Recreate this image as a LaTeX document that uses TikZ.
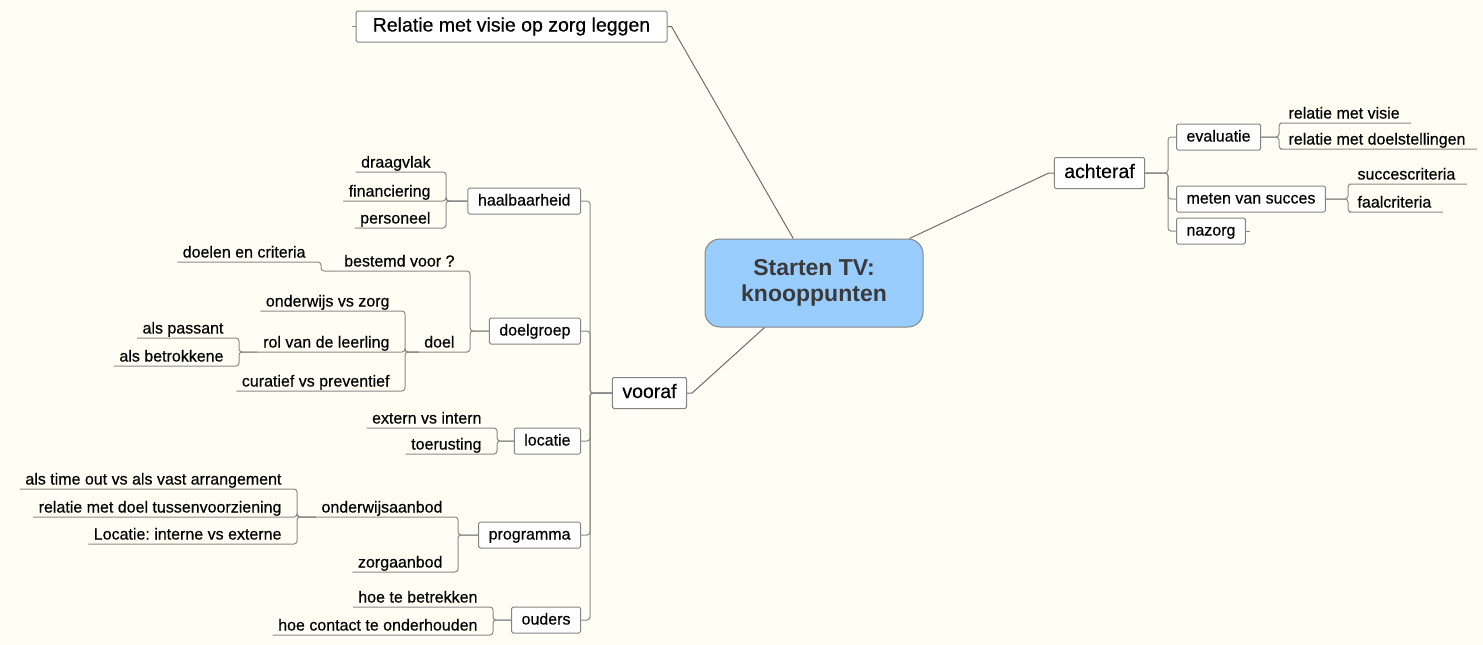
\documentclass[tikz,border=0pt]{standalone}
\usepackage{fontspec}
\setmainfont{Liberation Sans}
\newfontfamily\mapfont{Liberation Sans}[FakeBold=0.4]
\frenchspacing

\begin{document}
\begin{tikzpicture}[x=1pt, y=-1pt, line width=1pt,
  box/.style={draw=Edge, fill=white, rounded corners=1.5pt, inner xsep=10pt, inner ysep=0pt, minimum height=26pt, text height=12pt, text depth=3pt, font=\mapfont\fontsize{16}{18}\selectfont},
  main/.style={box, minimum height=31pt, text height=14pt, text depth=4pt, font=\mapfont\fontsize{19.5}{22}\selectfont},
  leaf/.style={inner xsep=5pt, inner ysep=0pt, text height=12pt, text depth=4pt, font=\mapfont\fontsize{16}{18}\selectfont},
  lleaf/.style={leaf, anchor=south east}, rleaf/.style={leaf, anchor=south west},
  wire/.style={draw=Wire, rounded corners=3pt}, spoke/.style={draw=Spoke}]
\definecolor{Paper}{HTML}{FEFEF4}\definecolor{Edge}{HTML}{858585}\definecolor{Wire}{HTML}{8A8A8A}\definecolor{Spoke}{HTML}{6E6E6E}\definecolor{Sky}{HTML}{99CCFF}\definecolor{Ink}{HTML}{3A3A3A}
\fill[Paper] (0,0) rectangle (1483,645); \useasboundingbox (0,0) rectangle (1483,645);
% centre and first level
\node[draw=Edge, fill=Sky, rounded corners=15pt, minimum width=218pt, minimum height=88pt, align=center, text=Ink, font=\bfseries\fontsize{23}{26}\selectfont] (ctr) at (814,283) {Starten TV:\\knooppunten};
\node[main, minimum width=311pt] (rel) at (511.5,26.5) {Relatie met visie op zorg leggen};
\node[main] (voor) at (649.5,393) {vooraf}; \node[main] (ach) at (1099.5,173) {achteraf};
\draw[spoke] (rel.east) -- ++(4,0) -- (ctr.115); \draw[wire] (rel.west) -- ++(-4,0);
\draw[spoke] (voor.east) -- ++(5,0) -- (ctr.222); \draw[spoke] (ach.west) -- ++(-5,0) -- (ctr.25);
% vooraf
\node[box, anchor=east] (hb) at (581,201) {haalbaarheid}; \node[box, anchor=east] (dg) at (581,331) {doelgroep};
\node[box, anchor=east] (loc) at (581,441) {locatie}; \node[box, anchor=east] (prog) at (581,535) {programma};
\node[box, anchor=east] (oud) at (581,620) {ouders};
\draw[wire] (hb.east) -- ++(9,0) |- (voor.west); \draw[wire] (dg.east) -- ++(9,0) |- (voor.west); \draw[wire] (loc.east) -- ++(9,0) |- (voor.west);
\draw[wire] (prog.east) -- ++(9,0) |- (voor.west); \draw[wire] (oud.east) -- ++(9,0) |- (voor.west);
\node[lleaf] (drv) at (436,172) {draagvlak}; \node[lleaf] (fin) at (436,201) {financiering}; \node[lleaf] (pers) at (436,228) {personeel};
\draw[wire] (drv.south west) -- (drv.south east) -- ++(10,0) |- (hb.west); \draw[wire] (fin.south west) -- (fin.south east) -- ++(10,0) |- (hb.west);
\draw[wire] (pers.south west) -- (pers.south east) -- ++(10,0) |- (hb.west);
\node[lleaf] (best) at (460,271) {bestemd voor ?}; \node[lleaf] (doel) at (460,352) {doel}; \node[lleaf] (dec) at (311,262) {doelen en criteria};
\draw[wire] (best.south west) -- (best.south east) -- ++(10,0) |- (dg.west); \draw[wire] (doel.south west) -- (doel.south east) -- ++(10,0) |- (dg.west);
\draw[wire] (dec.south west) -- (dec.south east) -- ++(10,0) |- (best.south west);
\node[lleaf] (ovz) at (395,311) {onderwijs vs zorg}; \node[lleaf] (rol) at (395,352) {rol van de leerling}; \node[lleaf] (cvp) at (395,391) {curatief vs preventief};
\draw[wire] (ovz.south west) -- (ovz.south east) -- ++(10,0) |- (doel.south west); \draw[wire] (rol.south west) -- (rol.south east) -- ++(10,0) |- (doel.south west);
\draw[wire] (cvp.south west) -- (cvp.south east) -- ++(10,0) |- (doel.south west);
\node[lleaf] (pas) at (229,338) {als passant}; \node[lleaf] (betr) at (229,366) {als betrokkene};
\draw[wire] (pas.south west) -- (pas.south east) -- ++(10,0) |- (rol.south west); \draw[wire] (betr.south west) -- (betr.south east) -- ++(10,0) |- (rol.south west);
\node[lleaf] (evi) at (487,428) {extern vs intern}; \node[lleaf] (toe) at (487,454) {toerusting};
\draw[wire] (evi.south west) -- (evi.south east) -- ++(10,0) |- (loc.west); \draw[wire] (toe.south west) -- (toe.south east) -- ++(10,0) |- (loc.west);
\node[lleaf] (oa) at (448,517) {onderwijsaanbod}; \node[lleaf] (za) at (448,572) {zorgaanbod};
\draw[wire] (oa.south west) -- (oa.south east) -- ++(10,0) |- (prog.west); \draw[wire] (za.south west) -- (za.south east) -- ++(10,0) |- (prog.west);
\node[lleaf] (tout) at (287,489) {als time out vs als vast arrangement}; \node[lleaf] (rdt) at (287,517) {relatie met doel tussenvoorziening};
\node[lleaf] (lie) at (287,544) {Locatie: interne vs externe};
\draw[wire] (tout.south west) -- (tout.south east) -- ++(10,0) |- (oa.south west); \draw[wire] (rdt.south west) -- (rdt.south east) -- ++(10,0) |- (oa.south west);
\draw[wire] (lie.south west) -- (lie.south east) -- ++(10,0) |- (oa.south west);
\node[lleaf] (htb) at (483,607) {hoe te betrekken}; \node[lleaf] (hco) at (483,635) {hoe contact te onderhouden};
\draw[wire] (htb.south west) -- (htb.south east) -- ++(10,0) |- (oud.west); \draw[wire] (hco.south west) -- (hco.south east) -- ++(10,0) |- (oud.west);
% achteraf
\node[box, anchor=west] (eval) at (1176,137) {evaluatie}; \node[box, anchor=west] (meet) at (1176,199) {meten van succes};
\node[box, anchor=west] (naz) at (1176,231) {nazorg};
\draw[wire] (eval.west) -- ++(-8,0) |- (ach.east); \draw[wire] (meet.west) -- ++(-8,0) |- (ach.east); \draw[wire] (naz.west) -- ++(-8,0) |- (ach.east);
\draw[wire] (naz.east) -- ++(4,0);
\node[rleaf] (rmv) at (1283,123) {relatie met visie}; \node[rleaf] (rmd) at (1283,149) {relatie met doelstellingen};
\draw[wire] ([xshift=6pt]rmv.south east) -- (rmv.south west) -- ++(-4,0) |- (eval.east); \draw[wire] ([xshift=6pt]rmd.south east) -- (rmd.south west) -- ++(-4,0) |- (eval.east);
\node[rleaf] (scr) at (1352,184) {succescriteria}; \node[rleaf] (fcr) at (1352,212) {faalcriteria};
\draw[wire] ([xshift=6pt]scr.south east) -- (scr.south west) -- ++(-4,0) |- (meet.east); \draw[wire] ([xshift=6pt]fcr.south east) -- (fcr.south west) -- ++(-4,0) |- (meet.east);
\end{tikzpicture}
\end{document}
